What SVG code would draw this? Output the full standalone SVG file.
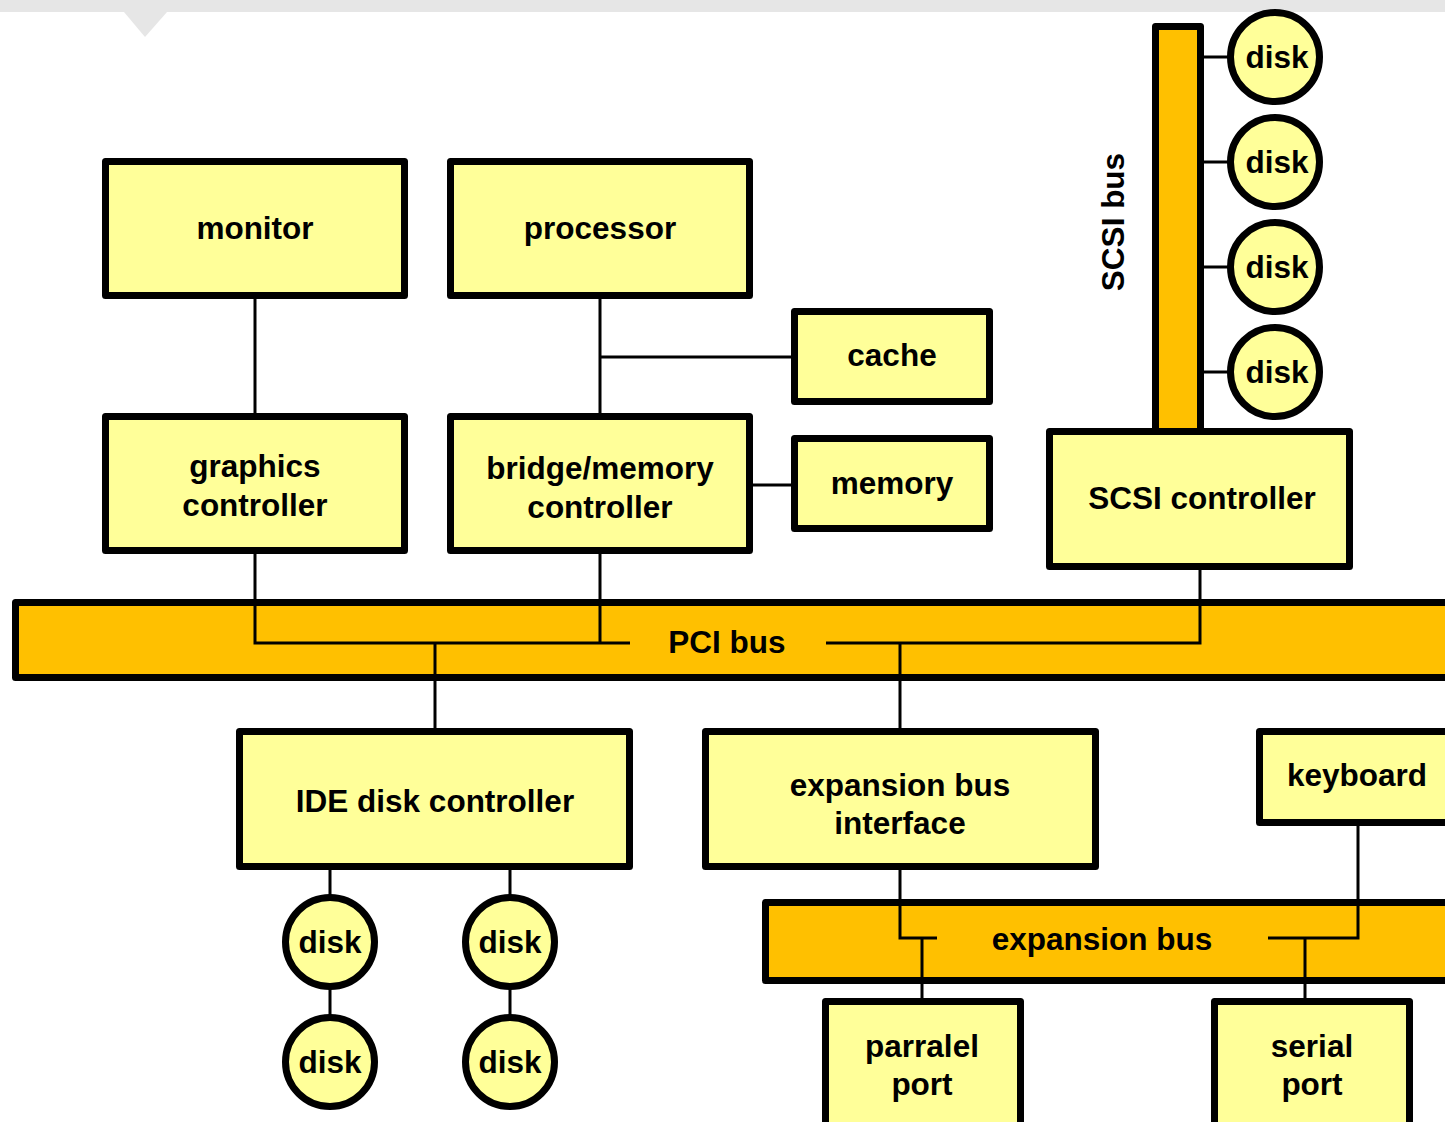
<svg xmlns="http://www.w3.org/2000/svg" width="1445" height="1122" viewBox="0 0 1445 1122">
<style>
.box{fill:#FFFF99;stroke:#000;stroke-width:7;stroke-linejoin:round}
.bus{fill:#FFC000;stroke:#000;stroke-width:7;stroke-linejoin:round}
.c{fill:none;stroke:#000;stroke-width:3}
text{font-family:"Liberation Sans",Arial,sans-serif;font-weight:bold;font-size:31.5px;fill:#000;text-anchor:middle}
</style>
<rect width="1445" height="1122" fill="#fff"/>
<rect x="0" y="0" width="1445" height="12" fill="#e6e6e6"/>
<polygon points="124,12 167,12 145,37" fill="#e6e6e6"/>

<g id="pci-bus"><rect class="bus" x="15.5" y="602.5" width="1440" height="75"/><text x="727" y="653">PCI bus</text></g>
<g id="expansion-bus"><rect class="bus" x="765.5" y="902.5" width="690" height="78"/><text x="1102" y="950">expansion bus</text></g>
<g id="scsi-bus"><rect class="bus" x="1155.5" y="26.5" width="45" height="410"/><text transform="translate(1124,222) rotate(-90)">SCSI bus</text></g>

<g id="connectors">
<path class="c" d="M255,299V413"/>
<path class="c" d="M600,299V413M600,357H792"/>
<path class="c" d="M753,485H792"/>
<path class="c" d="M255,554V643H630M600,554V643"/>
<path class="c" d="M435,643V729"/>
<path class="c" d="M826,643H1200V569"/>
<path class="c" d="M900,643V729"/>
<path class="c" d="M330,868V896M330,988V1016M510,868V896M510,988V1016"/>
<path class="c" d="M1203,57H1232M1203,162H1232M1203,267H1232M1203,372H1232"/>
<path class="c" d="M900,868V938H937M922,938V999"/>
<path class="c" d="M1268,938H1358V825M1305,938V999"/>
</g>

<g id="monitor"><rect class="box" x="105.5" y="161.5" width="299" height="134"/><text x="255" y="239">monitor</text></g>
<g id="processor"><rect class="box" x="450.5" y="161.5" width="299" height="134"/><text x="600" y="239">processor</text></g>
<g id="cache"><rect class="box" x="794.5" y="311.5" width="195" height="90"/><text x="892" y="366">cache</text></g>
<g id="graphics-controller"><rect class="box" x="105.5" y="416.5" width="299" height="134"/><text x="255" y="477">graphics</text><text x="255" y="516">controller</text></g>
<g id="bridge"><rect class="box" x="450.5" y="416.5" width="299" height="134"/><text x="600" y="479">bridge/memory</text><text x="600" y="518">controller</text></g>
<g id="memory"><rect class="box" x="794.5" y="438.5" width="195" height="90"/><text x="892" y="494">memory</text></g>
<g id="scsi-controller"><rect class="box" x="1049.5" y="431.5" width="300" height="135"/><text x="1202" y="509">SCSI controller</text></g>
<g id="ide-controller"><rect class="box" x="239.5" y="731.5" width="390" height="135"/><text x="435" y="812">IDE disk controller</text></g>
<g id="expansion-bus-interface"><rect class="box" x="705.5" y="731.5" width="390" height="135"/><text x="900" y="796">expansion bus</text><text x="900" y="834">interface</text></g>
<g id="keyboard"><rect class="box" x="1259.5" y="731.5" width="200" height="91"/><text x="1357" y="786">keyboard</text></g>
<g id="parallel-port"><rect class="box" x="825.5" y="1001.5" width="195" height="130"/><text x="922" y="1057">parralel</text><text x="922" y="1095">port</text></g>
<g id="serial-port"><rect class="box" x="1214.5" y="1001.5" width="195" height="130"/><text x="1312" y="1057">serial</text><text x="1312" y="1095">port</text></g>

<g id="scsi-disk-1"><circle class="box" cx="1275" cy="57" r="44.5"/><text x="1277" y="68">disk</text></g>
<g id="scsi-disk-2"><circle class="box" cx="1275" cy="162" r="44.5"/><text x="1277" y="173">disk</text></g>
<g id="scsi-disk-3"><circle class="box" cx="1275" cy="267" r="44.5"/><text x="1277" y="278">disk</text></g>
<g id="scsi-disk-4"><circle class="box" cx="1275" cy="372" r="44.5"/><text x="1277" y="383">disk</text></g>
<g id="ide-disk-1"><circle class="box" cx="330" cy="942" r="44.5"/><text x="330" y="953">disk</text></g>
<g id="ide-disk-2"><circle class="box" cx="330" cy="1062" r="44.5"/><text x="330" y="1073">disk</text></g>
<g id="ide-disk-3"><circle class="box" cx="510" cy="942" r="44.5"/><text x="510" y="953">disk</text></g>
<g id="ide-disk-4"><circle class="box" cx="510" cy="1062" r="44.5"/><text x="510" y="1073">disk</text></g>
</svg>
